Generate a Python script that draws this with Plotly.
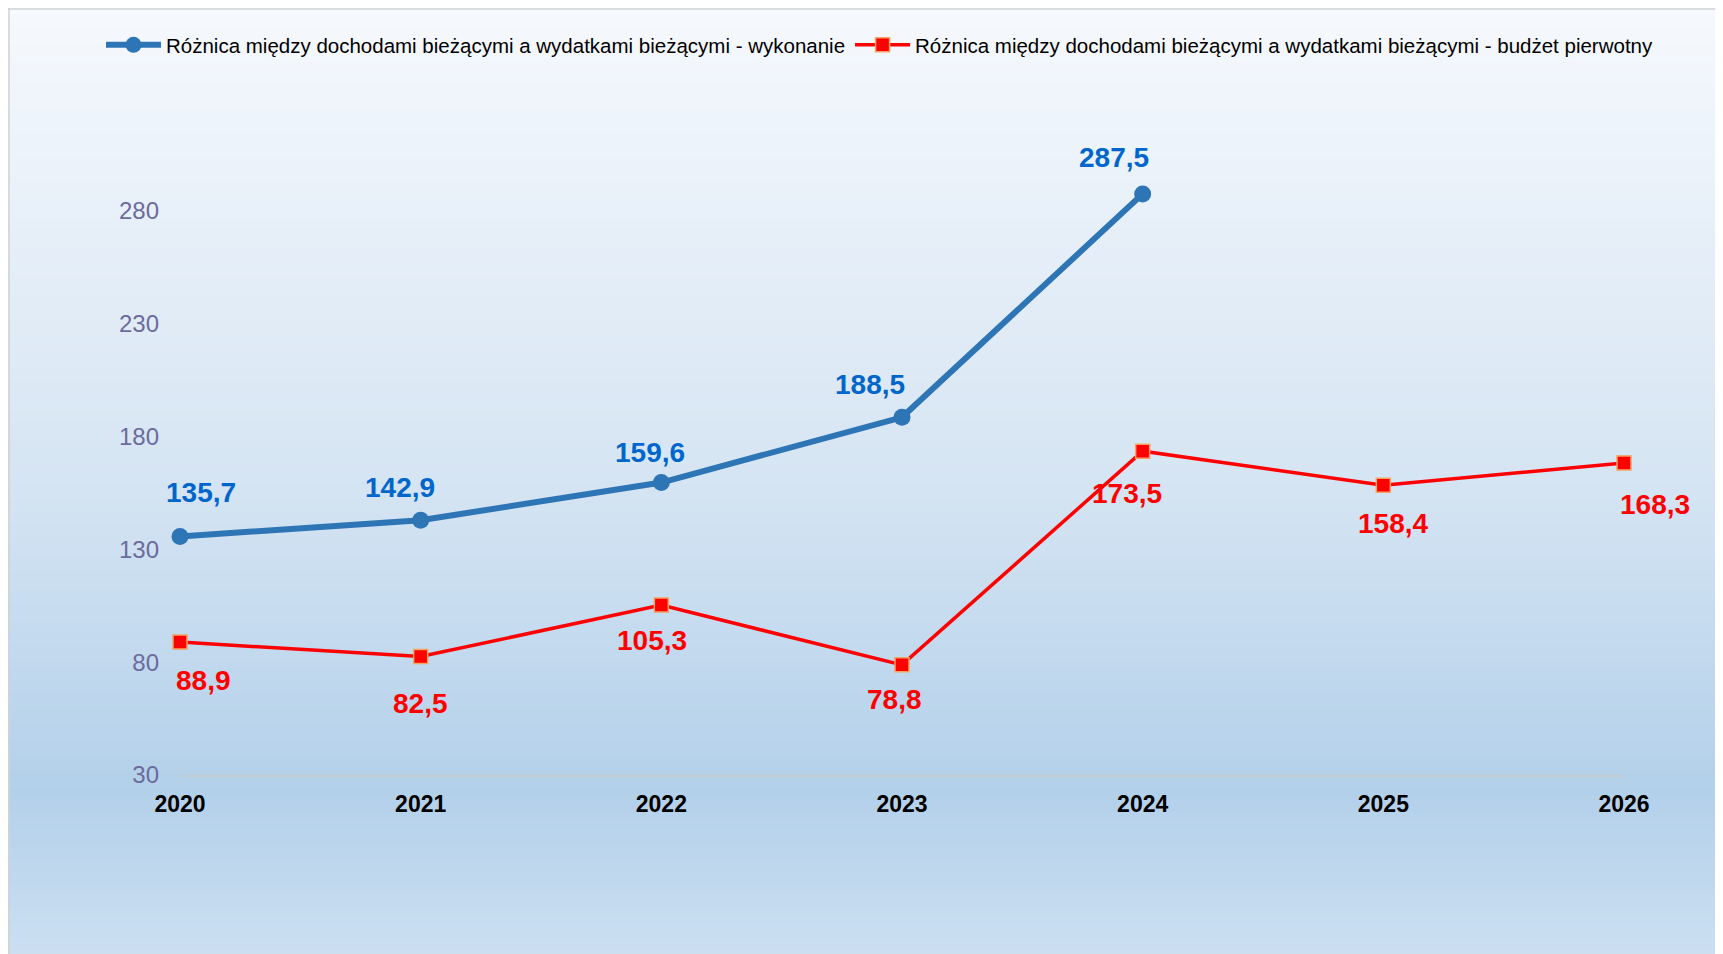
import plotly.graph_objects as go

# ---------------- data ----------------
years = [2020, 2021, 2022, 2023, 2024, 2025, 2026]
years_exec = [2020, 2021, 2022, 2023, 2024]
wykonanie = [135.7, 142.9, 159.6, 188.5, 287.5]
budzet = [88.9, 82.5, 105.3, 78.8, 173.5, 158.4, 168.3]
y_ticks = [30, 80, 130, 180, 230, 280]
name_exec = "Różnica między dochodami bieżącymi a wydatkami bieżącymi - wykonanie"
name_budget = "Różnica między dochodami bieżącymi a wydatkami bieżącymi - budżet pierwotny"

# label offsets in pixels (style, not data)
exec_label_shift = [(21, 44), (-21, 33), (-11, 30), (-32, 33), (-29, 36)]
budget_label_shift = [(23, -38), (0, -47), (-9, -35), (-8, -35), (-16, -42), (10, -38), (31, -42)]

PAGE_W, PAGE_H = 1723, 954
BODY = 8  # default page margin around the plot div
W, H = PAGE_W - BODY, PAGE_H - BODY
# plot area in page pixels: x 180..1624, y 98..775
ML, MR, MT, MB = 180 - BODY, PAGE_W - 1624, 98 - BODY, PAGE_H - 775
PW, PH = W - ML - MR, H - MT - MB

FONT = "Liberation Sans, Arial, sans-serif"


def fmt(v):
    return f"{v:.1f}".replace(".", ",")


fig = go.Figure()

fig.add_trace(go.Scatter(
    x=years_exec, y=wykonanie, name=name_exec, mode="lines+markers",
    line=dict(color="#2e75b6", width=6),
    marker=dict(symbol="circle", size=17, color="#2e75b6"),
    cliponaxis=False, hoverinfo="skip",
))
fig.add_trace(go.Scatter(
    x=years, y=budzet, name=name_budget, mode="lines+markers",
    line=dict(color="#ff0000", width=3.5),
    marker=dict(symbol="square", size=14, color="#ff0000",
                line=dict(color="#f4a460", width=1.5)),
    cliponaxis=False, hoverinfo="skip",
))

annotations = []
for x, v, (dx, dy) in zip(years_exec, wykonanie, exec_label_shift):
    annotations.append(dict(x=x, y=v, xref="x", yref="y", text=f"<b>{fmt(v)}</b>",
                            showarrow=False, xshift=dx, yshift=dy,
                            font=dict(family=FONT, size=28, color="#0066cc")))
for x, v, (dx, dy) in zip(years, budzet, budget_label_shift):
    annotations.append(dict(x=x, y=v, xref="x", yref="y", text=f"<b>{fmt(v)}</b>",
                            showarrow=False, xshift=dx, yshift=dy,
                            font=dict(family=FONT, size=28, color="#ff0000")))


# ---------------- background gradient (strips) ----------------
def px2paper_x(px):  # page px -> paper
    return (px - 180) / PW


def px2paper_y(py):  # page px -> paper
    return (775 - py) / PH


stops = [(8, (246, 249, 253)), (120, (238, 244, 251)), (477, (214, 229, 243)),
         (790, (179, 208, 234)), (954, (203, 223, 241))]


def color_at(py):
    for (y0, c0), (y1, c1) in zip(stops[:-1], stops[1:]):
        if y0 <= py <= y1:
            t = (py - y0) / (y1 - y0)
            return "rgb(%d,%d,%d)" % tuple(round(a + (b - a) * t) for a, b in zip(c0, c1))
    return "rgb(%d,%d,%d)" % stops[-1][1]


shapes = []
step = 6
py = 8
while py < PAGE_H:
    shapes.append(dict(type="rect", xref="paper", yref="paper", layer="below",
                       x0=px2paper_x(BODY), x1=px2paper_x(PAGE_W + 2),
                       y0=px2paper_y(py), y1=px2paper_y(min(py + step + 1, PAGE_H + 2)),
                       fillcolor=color_at(py + step / 2), line=dict(width=0)))
    py += step

# chart area border
shapes.append(dict(type="line", xref="paper", yref="paper", layer="above",
                   x0=px2paper_x(BODY), x1=px2paper_x(PAGE_W + 2), y0=px2paper_y(9), y1=px2paper_y(9),
                   line=dict(color="#d2d2d2", width=1.5)))
shapes.append(dict(type="line", xref="paper", yref="paper", layer="above",
                   x0=px2paper_x(9), x1=px2paper_x(9), y0=px2paper_y(BODY), y1=px2paper_y(PAGE_H + 2),
                   line=dict(color="#d2d2d2", width=1.5)))

fig.update_layout(
    width=W, height=H,
    margin=dict(l=ML, r=MR, t=MT, b=MB, pad=0, autoexpand=False),
    paper_bgcolor="white",
    plot_bgcolor="rgba(0,0,0,0)",
    font=dict(family=FONT),
    shapes=shapes,
    annotations=annotations,
    showlegend=True,
    legend=dict(orientation="h", x=px2paper_x(101), xanchor="left", y=px2paper_y(45), yanchor="middle",
                font=dict(family=FONT, size=20.5, color="#000000"),
                bgcolor="rgba(0,0,0,0)", itemwidth=55, tracegroupgap=0, borderwidth=0),
    xaxis=dict(range=[2020, 2026], tickmode="array", tickvals=years,
               ticktext=[f"<b>{y}</b>" for y in years],
               tickfont=dict(family=FONT, size=23, color="#000000"),
               showgrid=False, zeroline=False, showline=True, linecolor="#c3cbd4", linewidth=2,
               ticks="", ticklabelstandoff=7, fixedrange=True),
    yaxis=dict(range=[30, 330], tickmode="array", tickvals=y_ticks,
               ticktext=[str(v) for v in y_ticks],
               tickfont=dict(family=FONT, size=24, color="#6b6b9d"),
               showgrid=False, zeroline=False, showline=False, ticks="",
               ticklabelstandoff=20, fixedrange=True),
)

fig.write_html("out.html")
